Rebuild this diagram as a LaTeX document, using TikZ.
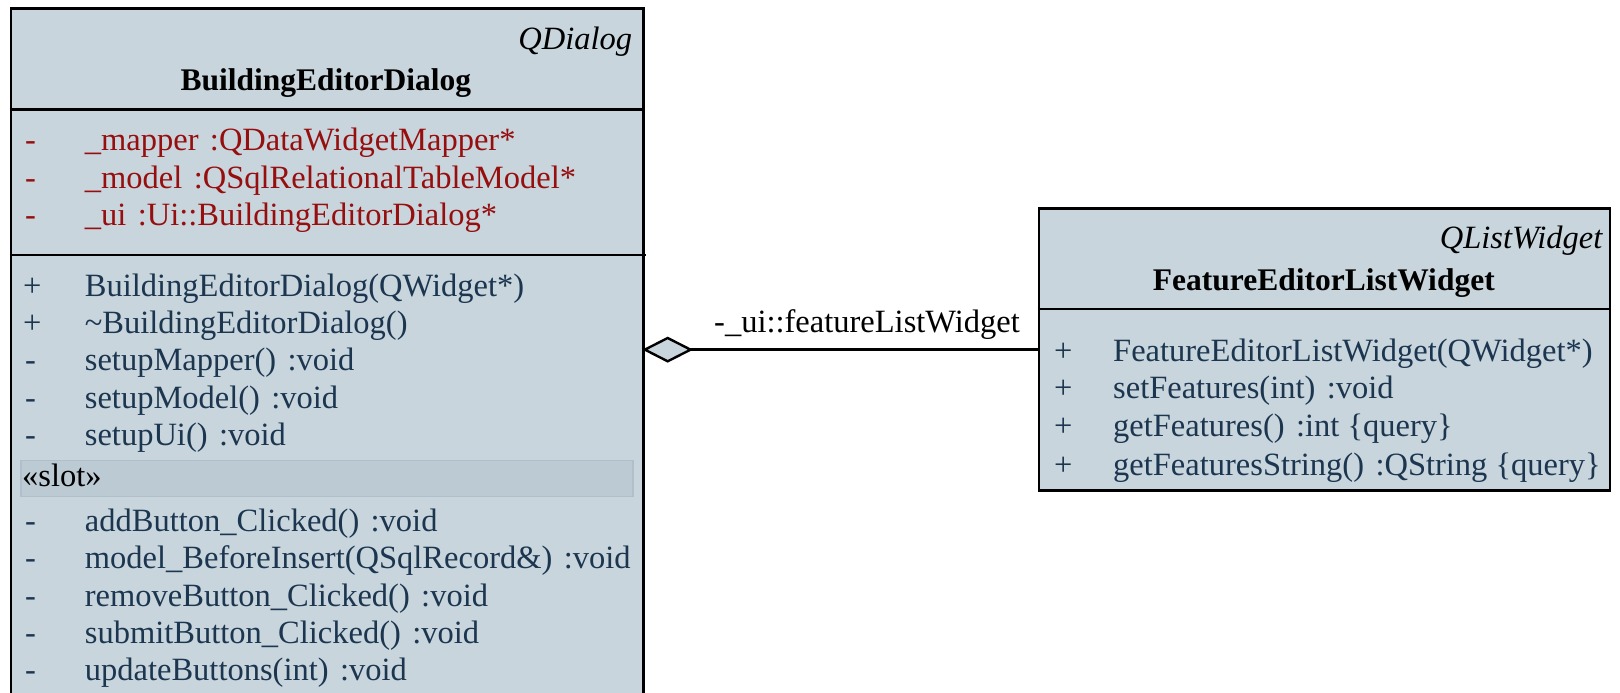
\documentclass[tikz,border=0pt]{standalone}
\usepackage{fontspec}
\setmainfont{Liberation Serif}
\usetikzlibrary{arrows.meta}
\definecolor{boxfill}{RGB}{200,213,221}
\definecolor{slotfill}{RGB}{188,202,211}
\definecolor{slotline}{RGB}{176,191,201}
\definecolor{attrred}{RGB}{150,14,14}
\definecolor{opblue}{RGB}{28,54,80}
\tikzset{
  classbox/.style={draw=black, line width=2.7pt, fill=boxfill, rectangle, anchor=north west, inner sep=0pt},
  sepline/.style={draw=black, line width=2.7pt},
  txt/.style={font=\fontsize{32.5}{39}\selectfont, inner sep=0pt, anchor=base west},
  attr/.style={txt, text=attrred},
  oper/.style={txt, text=opblue},
  stereo/.style={txt, text=black},
  ctitle/.style={font=\fontsize{31.5}{38}\selectfont\bfseries, inner sep=0pt, anchor=base},
  cparent/.style={font=\fontsize{32.5}{39}\selectfont\itshape, inner sep=0pt, anchor=base east},
  aggr/.style={draw=black, line width=2.7pt, shorten >=-2.5pt,
    -{Diamond[length=51pt, width=26pt, fill=boxfill, line width=2.4pt]}},
  rolelabel/.style={font=\fontsize{32.5}{39}\selectfont, inner sep=0pt, anchor=base}
}
\begin{document}
\begin{tikzpicture}[x=1pt, y=-1pt]
\clip (0,0) rectangle (1620,693);
\fill[white] (0,0) rectangle (1620,693);

% ---- BuildingEditorDialog ----
\node[classbox, minimum width=632.5pt, minimum height=740pt] (bed) at (9.5,7.3) {};
\draw[sepline] (9.5,109.3) -- (642,109.3);
\draw[sepline] (9.5,255) -- (645.5,255);
\node[cparent] (bedp) at (632.3,50) {QDialog};
\node[ctitle] (bedt) at (325.8,90.7) {BuildingEditorDialog};

\node[attr] (ba1v) at (25,150.7) {-};
\node[attr] (ba1) at (84.7,150.7) {\_mapper\hspace{0.35em}:QDataWidgetMapper*};
\node[attr] (ba2v) at (25,188.3) {-};
\node[attr] (ba2) at (84.7,188.3) {\_model\hspace{0.35em}:QSqlRelationalTableModel*};
\node[attr] (ba3v) at (25,225) {-};
\node[attr] (ba3) at (84.7,225) {\_ui\hspace{0.35em}:Ui::BuildingEditorDialog*};

\node[oper] (bo1v) at (23,296) {+};
\node[oper] (bo1) at (84.7,296) {BuildingEditorDialog(QWidget*)};
\node[oper] (bo2v) at (23,333.5) {+};
\node[oper] (bo2) at (84.7,333.5) {\textasciitilde BuildingEditorDialog()};
\node[oper] (bo3v) at (25,370.7) {-};
\node[oper] (bo3) at (84.7,370.7) {setupMapper()\hspace{0.35em}:void};
\node[oper] (bo4v) at (25,408.3) {-};
\node[oper] (bo4) at (84.7,408.3) {setupModel()\hspace{0.35em}:void};
\node[oper] (bo5v) at (25,445) {-};
\node[oper] (bo5) at (84.7,445) {setupUi()\hspace{0.35em}:void};

\filldraw[fill=slotfill, draw=slotline, line width=1.2pt] (21,460.7) rectangle (633,496.7);
\node[stereo] (bslot) at (22,486.7) {«slot»};

\node[oper] (bs1v) at (25,531) {-};
\node[oper] (bs1) at (84.7,531) {addButton\_Clicked()\hspace{0.35em}:void};
\node[oper] (bs2v) at (25,568.3) {-};
\node[oper] (bs2) at (84.7,568.3) {model\_BeforeInsert(QSqlRecord\&)\hspace{0.35em}:void};
\node[oper] (bs3v) at (25,606) {-};
\node[oper] (bs3) at (84.7,606) {removeButton\_Clicked()\hspace{0.35em}:void};
\node[oper] (bs4v) at (25,643.3) {-};
\node[oper] (bs4) at (84.7,643.3) {submitButton\_Clicked()\hspace{0.35em}:void};
\node[oper] (bs5v) at (25,680) {-};
\node[oper] (bs5) at (84.7,680) {updateButtons(int)\hspace{0.35em}:void};

% ---- FeatureEditorListWidget ----
\node[classbox, minimum width=571pt, minimum height=282pt] (fel) at (1037.5,207.3) {};
\draw[sepline] (1037.5,309) -- (1608.5,309);
\node[cparent] (felp) at (1602.5,248.3) {QListWidget};
\node[ctitle] (felt) at (1323.8,290) {FeatureEditorListWidget};

\node[oper] (fo1v) at (1054,361.7) {+};
\node[oper] (fo1) at (1113,361.7) {FeatureEditorListWidget(QWidget*)};
\node[oper] (fo2v) at (1054,398.3) {+};
\node[oper] (fo2) at (1113,398.3) {setFeatures(int)\hspace{0.35em}:void};
\node[oper] (fo3v) at (1054,436.7) {+};
\node[oper] (fo3) at (1113,436.7) {getFeatures()\hspace{0.35em}:int \{query\}};
\node[oper] (fo4v) at (1054,475) {+};
\node[oper] (fo4) at (1113,475) {getFeaturesString()\hspace{0.35em}:QString \{query\}};

% ---- aggregation ----
\draw[aggr] (fel.west) -- (fel.west -| bed.east);
\node[rolelabel] (role) at (867,332.7) {-\_ui::featureListWidget};
\end{tikzpicture}
\end{document}
